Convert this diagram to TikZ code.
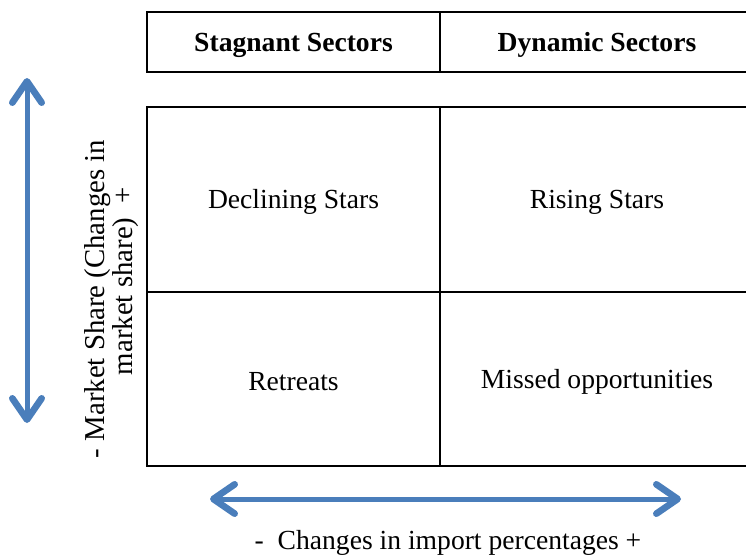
\documentclass[tikz,border=0pt]{standalone}
\usepackage{fontspec}
\setmainfont{Liberation Serif}
\usetikzlibrary{arrows.meta}

\definecolor{arrowblue}{RGB}{74,126,187}

\begin{document}
\begin{tikzpicture}[x=0.75pt, y=-0.75pt,
  every node/.style={font=\fontsize{20.7}{24}\selectfont, inner sep=0pt},
  cellline/.style={draw=black, line width=1.5pt},
  headtext/.style={font=\fontsize{20.7}{24}\selectfont\bfseries},
  sidetext/.style={font=\fontsize{21.6}{24}\selectfont, rotate=90},
  bluearrow/.style={draw=arrowblue, line width=3.75pt,
    {Straight Barb[length=16pt,width=22pt,round,line width=5pt]}-{Straight Barb[length=16pt,width=22pt,round,line width=5pt]}}]
	\useasboundingbox (0,0) rectangle (746,554);
	\clip (0,0) rectangle (746,554);
	
	% header row
	\draw[cellline] (147,12) rectangle (760,72);
	\draw[cellline] (440,12) -- (440,72);
	\node[headtext] (stagnant) at (293.5,45){Stagnant Sectors};
	\node[headtext] (dynamic) at (597,45){Dynamic Sectors};
	
	% four quadrants
	\draw[cellline] (147,107) rectangle (760,466);
	\draw[cellline] (440,107) -- (440,466);
	\draw[cellline] (147,292) -- (760,292);
	
	\node (declining) at (293.5,202){Declining Stars};
	\node (rising) at (597,202){Rising Stars};
	\node (retreats) at (293.5,382){Retreats};
	\node (missed) at (597,382){Missed opportunities};
	
	% axes
	\coordinate (shareTop) at (27,78);
	\coordinate (shareBot) at (27,423);
	\draw[bluearrow] (shareTop) -- (shareBot);
	
	\coordinate (importLeft) at (210,499);
	\coordinate (importRight) at (681,499);
	\draw[bluearrow] (importLeft) -- (importRight);
	
	\node[sidetext] (shareA) at (98,299){- Market Share (Changes in};
	\node[sidetext] (shareB) at (126,281){market share)~ +};
	\node (importText) at (448,543){-~~Changes in import percentages +};
\end{tikzpicture}
\end{document}
